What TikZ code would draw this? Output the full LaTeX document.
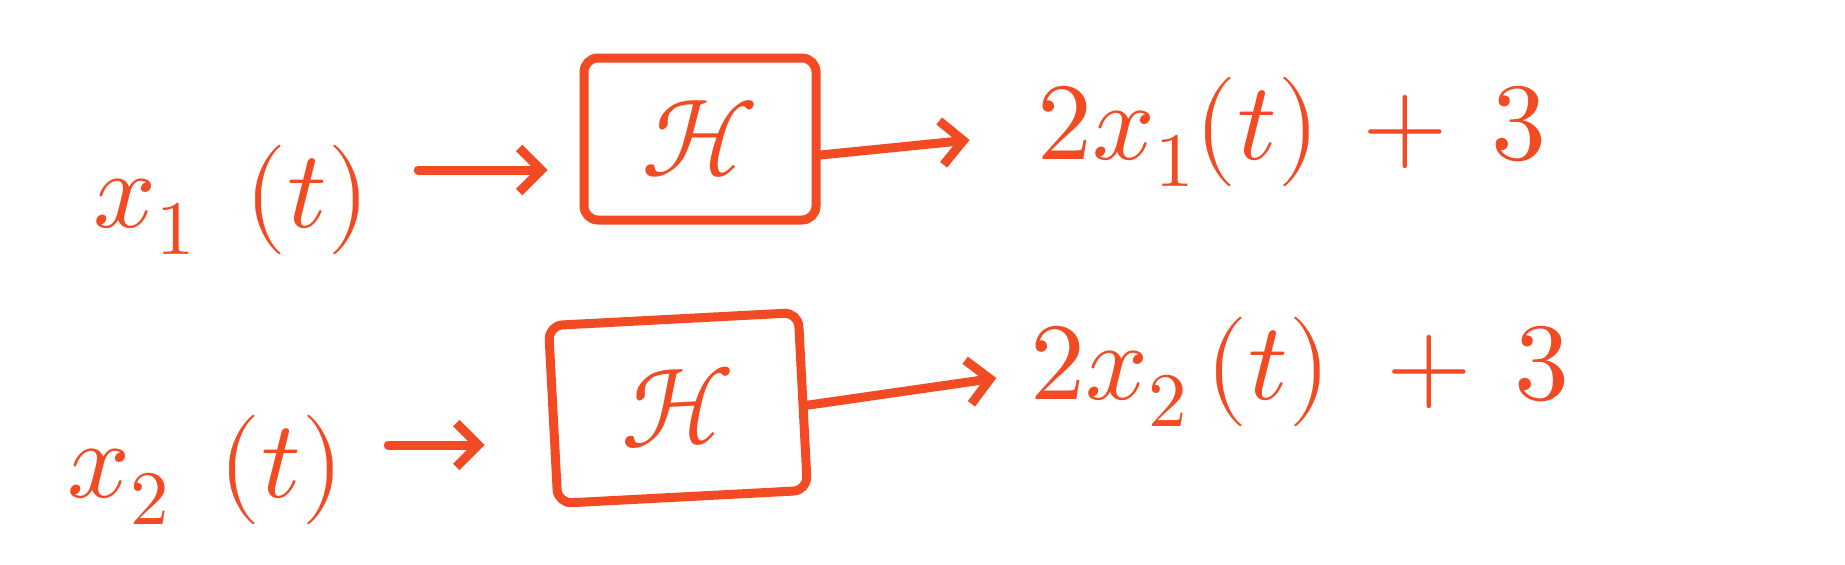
\documentclass[tikz,border=0pt]{standalone}
\usepackage{fontspec}
\usepackage{unicode-math}
\setmathfont{Latin Modern Math}
\usetikzlibrary{arrows.meta}
\definecolor{ink}{HTML}{F24A22}
\tikzset{
  txt/.style={text=ink, inner sep=0pt, font=\fontsize{110}{120}\selectfont},
  hbox/.style={draw=ink, line width=9pt, rounded corners=14pt, inner sep=0pt, text=ink, font=\fontsize{110}{120}\selectfont},
  conn/.style={draw=ink, line width=9pt, line cap=round, -{Straight Barb[length=22pt,width=44pt,line width=9pt]}},
}
\begin{document}
\begin{tikzpicture}[x=1pt,y=-1pt]
\useasboundingbox (0,0) rectangle (1845,565);
% row 1
\node[txt] (in1) at (232,200) {$x_{1}\;\,(t)$};
\node[hbox, minimum width=232pt, minimum height=162pt] (h1) at (700,139) {$\mathcal{H}$};
\node[txt] (out1) at (1292,132) {$2x_{1}(t)\,+\,3$};
% row 2
\node[txt] (in2) at (206,470) {$x_{2}\;\,(t)$};
\node[hbox, minimum width=250pt, minimum height=178pt, rotate=3] (h2) at (678,408) {$\mathcal{H}$};
\node[txt] (out2) at (1300,372) {$2x_{2}\,(t)\;+\,3$};
% connectors
\draw[conn] ([xshift=48pt]in1.east |- 0,170) -- ([xshift=-32pt]h1.west |- 0,170);
\draw[conn] ([yshift=-16pt]h1.east) -- ([xshift=-68pt,yshift=-8pt]out1.west);
\draw[conn] ([xshift=44pt]in2.east |- 0,445) -- ([xshift=-64pt]h2.west |- 0,445);
\draw[conn] ([yshift=-4pt]h2.east) -- ([xshift=-34pt,yshift=-6pt]out2.west);
\end{tikzpicture}
\end{document}
